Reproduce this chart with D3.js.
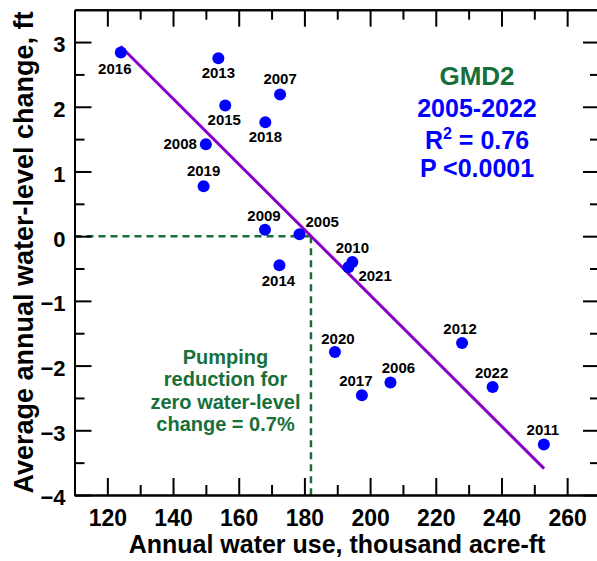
<!DOCTYPE html>
<html>
<head>
<meta charset="utf-8">
<script src="https://cdn.jsdelivr.net/npm/d3@7"></script>
<style>
  body { margin: 0; background: #fff; }
  svg text { font-family: "Liberation Sans", Arial, sans-serif; font-weight: bold; }
  .axis path, .axis line { stroke: #000; stroke-width: 2; }
</style>
</head>
<body>
<div class="chart"></div>
<script>
// data
var years = [2016, 2013, 2007, 2015, 2018, 2008, 2019, 2009, 2014, 2005,
             2010, 2021, 2020, 2017, 2006, 2012, 2022, 2011];
var waterUse = [124.1, 153.8, 172.6, 155.9, 168.1, 150.0, 149.3, 168.0, 172.4, 178.5,
                194.6, 193.4, 189.3, 197.5, 206.2, 228.0, 237.3, 252.9];
var levelChange = [2.84, 2.75, 2.19, 2.02, 1.76, 1.42, 0.77, 0.10, -0.45, 0.03,
                   -0.40, -0.48, -1.79, -2.46, -2.26, -1.65, -2.33, -3.22];

var xMajorTicks = [120, 140, 160, 180, 200, 220, 240, 260];
var xMinorTicks = [130, 150, 170, 190, 210, 230, 250];
var yMajorTicks = [-4, -3, -2, -1, 0, 1, 2, 3];
var yMinorTicks = [-3.5, -2.5, -1.5, -0.5, 0.5, 1.5, 2.5];

// regression fit and break-even water use
var fitSlope = -0.0506;
var fitIntercept = 9.21;
var fitRange = [124, 253];
var breakEven = 182;

var statLines = ["GMD2", "2005-2022", "R2 = 0.76", "P <0.0001"];
var noteLines = ["Pumping", "reduction for", "zero water-level", "change = 0.7%"];

// label placement next to each point: [dx, dy, anchor]
var labelPos = [[-6, 22, "middle"], [0, 20, "middle"], [0, -10, "middle"], [-1, 20, "middle"],
                [0, 20, "middle"], [-9, 5, "end"], [0, -10, "middle"], [-1, -9, "middle"],
                [-1, 21, "middle"], [6, -7, "start"], [0, -9, "middle"], [10, 14, "start"],
                [3, -8, "middle"], [-6, -9, "middle"], [8, -9, "middle"], [-2, -9, "middle"],
                [-1, -9, "middle"], [-1, -10, "middle"]];

var svgWidth = 597;
var svgHeight = 561;

var svg = d3.select(".chart")
  .append("svg")
  .attr("width", svgWidth)
  .attr("height", svgHeight);

svg.append("rect").attr("width", svgWidth).attr("height", svgHeight).attr("fill", "#fff");

var x = d3.scaleLinear().domain([110, 270]).range([74.5, 600]);
var y = d3.scaleLinear().domain([-4, 3.5]).range([495, 9.7]);

var green = "#17703a";
var blue = "#0000ff";

// dashed break-even lines
svg.append("line")
  .attr("x1", x(110)).attr("x2", x(breakEven))
  .attr("y1", y(0)).attr("y2", y(0))
  .attr("stroke", green).attr("stroke-width", 2.5)
  .attr("stroke-dasharray", "7,5");
svg.append("line")
  .attr("x1", x(breakEven)).attr("x2", x(breakEven))
  .attr("y1", y(0)).attr("y2", y(-4))
  .attr("stroke", green).attr("stroke-width", 2.5)
  .attr("stroke-dasharray", "7,5");

// regression line
svg.append("line")
  .attr("x1", x(fitRange[0])).attr("y1", y(fitIntercept + fitSlope * fitRange[0]))
  .attr("x2", x(fitRange[1])).attr("y2", y(fitIntercept + fitSlope * fitRange[1]))
  .attr("stroke", "#8b00c9").attr("stroke-width", 3);

// axes: major ticks long, minor short, all pointing in
function addAxis(axisFn, scale, majors, minors, transform, showLabels, fontSize) {
  var g = svg.append("g").attr("class", "axis").attr("transform", transform);
  g.call(axisFn(scale).tickValues(minors).tickSize(-10).tickSizeOuter(0).tickFormat(""));
  var g2 = svg.append("g").attr("class", "axis").attr("transform", transform);
  var ax = axisFn(scale).tickValues(majors).tickSize(-17).tickSizeOuter(0);
  if (showLabels) ax.tickFormat(d3.format("d")); else ax.tickFormat("");
  g2.call(ax);
  g2.selectAll("text").attr("font-size", fontSize).attr("fill", "#000")
    .attr("font-family", "Liberation Sans, Arial, sans-serif").attr("font-weight", "bold");
  return g2;
}

var bottomG = addAxis(d3.axisBottom, x, xMajorTicks, xMinorTicks, "translate(0,495)", true, 23);
bottomG.call(g => g.selectAll(".tick text").attr("y", 15));
var leftG = addAxis(d3.axisLeft, y, yMajorTicks, yMinorTicks, "translate(74.5,0)", true, 22);
leftG.call(g => g.selectAll(".tick text").attr("x", -9).attr("dy", "0.45em"));
addAxis(d3.axisTop, x, xMajorTicks, xMinorTicks, "translate(0,9.7)", false, 0);
addAxis(d3.axisRight, y, yMajorTicks, yMinorTicks, "translate(600,0)", false, 0);

// points
var pts = years.map((yr, i) => ({ year: yr, use: waterUse[i], change: levelChange[i], pos: labelPos[i] }));

svg.selectAll("circle.pt")
  .data(pts)
  .enter()
  .append("circle")
  .attr("class", "pt")
  .attr("cx", d => x(d.use))
  .attr("cy", d => y(d.change))
  .attr("r", 6)
  .attr("fill", blue);

svg.selectAll("text.yr")
  .data(pts)
  .enter()
  .append("text")
  .attr("class", "yr")
  .attr("x", d => x(d.use) + d.pos[0])
  .attr("y", d => y(d.change) + d.pos[1])
  .attr("text-anchor", d => d.pos[2])
  .attr("font-size", 15)
  .text(d => d.year);

// stats block
var statY = [85, 116.7, 149, 177.3];
statLines.forEach(function(s, i) {
  var t = svg.append("text")
    .attr("x", 477).attr("y", statY[i])
    .attr("text-anchor", "middle")
    .attr("font-size", i == 0 ? 26 : 25)
    .attr("fill", i == 0 ? green : blue);
  if (s.startsWith("R2")) {
    t.append("tspan").text("R");
    t.append("tspan").attr("font-size", 16).attr("dy", -10).text("2");
    t.append("tspan").attr("dy", 10).text(s.slice(2));
  } else {
    t.text(s);
  }
});

// pumping note
noteLines.forEach(function(s, i) {
  svg.append("text")
    .attr("x", 225.5).attr("y", 364 + i * 22.3)
    .attr("text-anchor", "middle")
    .attr("font-size", 20)
    .attr("fill", green)
    .text(s);
});

// axis titles
svg.append("text")
  .attr("x", 337).attr("y", 553)
  .attr("text-anchor", "middle")
  .attr("font-size", 25)
  .text("Annual water use, thousand acre-ft");

svg.append("text")
  .attr("transform", "translate(33,252.5) rotate(-90)")
  .attr("text-anchor", "middle")
  .attr("font-size", 27)
  .text("Average annual water-level change, ft");
</script>
</body>
</html>
